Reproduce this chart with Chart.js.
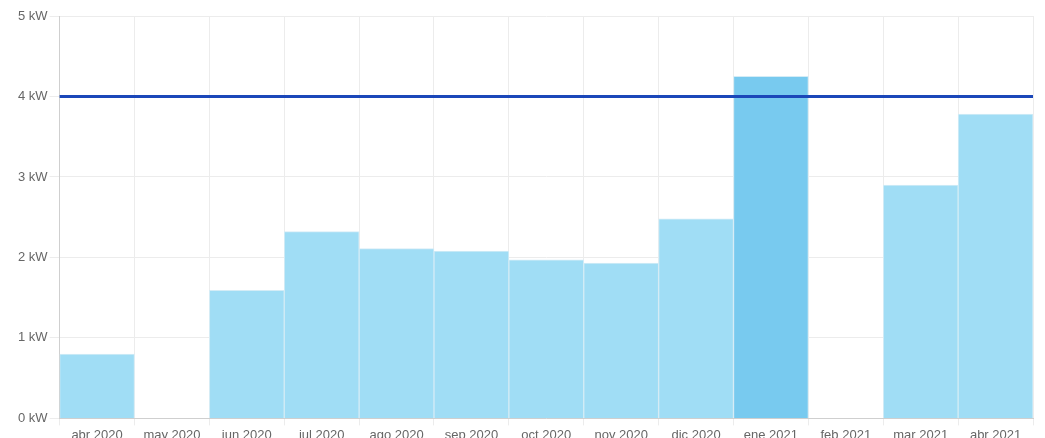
<!DOCTYPE html>
<html>
<head>
<meta charset="utf-8">
<script src="https://cdn.jsdelivr.net/npm/chart.js@4/dist/chart.umd.min.js"></script>
<style>
  html, body { margin: 0; padding: 0; background: #fff; overflow: hidden; }
  #wrap { width: 1045px; height: 445px; }
</style>
</head>
<body>
<div id="wrap"><canvas id="powerChart"></canvas></div>
<script>
const months = ['abr 2020', 'may 2020', 'jun 2020', 'jul 2020', 'ago 2020', 'sep 2020', 'oct 2020',
                'nov 2020', 'dic 2020', 'ene 2021', 'feb 2021', 'mar 2021', 'abr 2021'];
const maxPower = [0.80, 0, 1.59, 2.32, 2.11, 2.08, 1.97, 1.93, 2.48, 4.25, 0, 2.90, 3.78];
const contracted = [4, 4];
const yTicks = [0, 1, 2, 3, 4, 5];

(function() {
    const ctx = document.getElementById('powerChart');
    const peak = Math.max(...maxPower);

    new Chart(ctx, {
        data: {
            labels: months,
            datasets: [
                {
                    type: 'line',
                    label: 'Potencia contratada',
                    data: contracted,
                    xAxisID: 'x2',
                    borderColor: '#1b47b9',
                    borderWidth: 3,
                    pointRadius: 0,
                    fill: false,
                    order: 0
                },
                {
                    type: 'bar',
                    label: 'Potencia máxima',
                    data: maxPower,
                    backgroundColor: maxPower.map(v => v === peak ? '#78caef' : '#a0ddf5'),
                    borderColor: '#d4ecf6',
                    borderWidth: 1,
                    barPercentage: 1,
                    categoryPercentage: 1,
                    grouped: false,
                    order: 1
                }
            ]
        },
        options: {
            responsive: true,
            maintainAspectRatio: false,
            animation: false,
            layout: { padding: { top: 16, right: 12, left: 16, bottom: 0 } },
            plugins: {
                legend: { display: false },
                tooltip: { enabled: false }
            },
            scales: {
                x: {
                    ticks: {
                        color: '#666',
                        font: { family: 'Liberation Sans', size: 13 },
                        maxRotation: 0,
                        padding: 2
                    },
                    grid: { color: '#ececec', tickLength: 7 },
                    border: { color: '#cfcfcf' }
                },
                x2: {
                    type: 'category',
                    labels: ['a', 'b'],
                    offset: false,
                    display: false
                },
                y: {
                    min: 0,
                    max: 5,
                    afterBuildTicks: axis => { axis.ticks = yTicks.map(v => ({ value: v })); },
                    ticks: {
                        color: '#666',
                        font: { family: 'Liberation Sans', size: 13 },
                        padding: 2,
                        callback: v => v + ' kW'
                    },
                    grid: { color: '#ececec', tickLength: 10 },
                    border: { color: '#cfcfcf' }
                }
            }
        }
    });
})();
</script>
</body>
</html>
